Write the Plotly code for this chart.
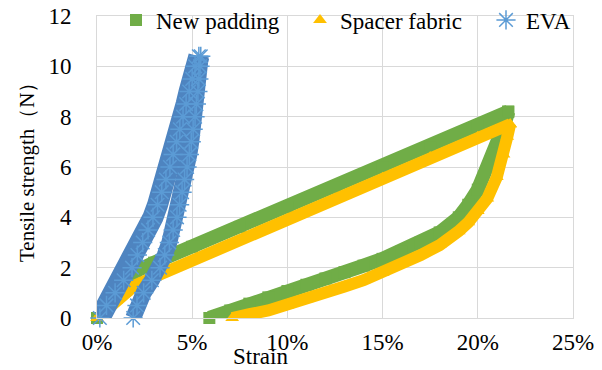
import plotly.graph_objects as go

# ---------------- data (strain in %, tensile strength in N) ----------------
np_load_x = [0, 0.3, 0.6, 1.0, 1.5, 2.0, 3.0, 5.0, 7.5, 10.0, 12.5, 15.0, 17.5, 20.0, 21.6]
np_load_y = [0, 0.4, 0.8, 1.2, 1.55, 1.85, 2.2, 2.83, 3.62, 4.41, 5.2, 5.99, 6.78, 7.6, 8.2]
np_unload_x = [21.6, 21.4, 21.05, 20.6, 20.0, 19.5, 19.0, 18.0, 17.0, 16.0, 15.0,
               14.0, 13.0, 12.0, 11.0, 10.0, 9.0, 8.0, 7.0, 5.9]
np_unload_y = [8.2, 7.7, 7.0, 6.0, 5.1, 4.5, 4.0, 3.4, 3.0, 2.65, 2.35,
               2.08, 1.82, 1.57, 1.32, 1.07, 0.82, 0.57, 0.3, 0.0]

sf_load_x = [0, 0.5, 1.0, 1.5, 2.0, 3.0, 5.0, 7.5, 10.0, 12.5, 15.0, 17.5, 20.0, 21.7]
sf_load_y = [0, 0.3, 0.7, 1.0, 1.3, 1.63, 2.28, 3.1, 3.93, 4.75, 5.57, 6.4, 7.2, 7.7]
sf_unload_x = [21.7, 21.55, 21.35, 21.0, 20.5, 20.0, 19.5, 19.0, 18.0, 17.0, 16.0, 15.0,
               14.0, 13.0, 12.0, 11.0, 10.0, 9.0, 8.0, 7.1]
sf_unload_y = [7.7, 7.2, 6.5, 5.6, 4.75, 4.25, 3.8, 3.45, 2.9, 2.5, 2.15, 1.8,
               1.5, 1.25, 1.0, 0.75, 0.5, 0.3, 0.15, 0.0]

eva_load_y = [0, 0.5, 1.0, 1.5, 2.0, 2.5, 3.0, 3.5, 4.0, 4.5, 5.0, 5.5, 6.0, 6.5, 7.0,
              7.5, 8.0, 8.5, 9.0, 9.5, 10.0, 10.4]
eva_load_x = [0.15, 0.5, 0.95, 1.4, 1.84, 2.12, 2.4, 2.68, 2.94, 3.18, 3.4, 3.62, 3.83, 4.0,
              4.18, 4.35, 4.52, 4.68, 4.84, 5.0, 5.15, 5.35]
eva_unload_y = [10.4, 10.0, 9.5, 9.0, 8.5, 8.0, 7.5, 7.0, 6.5, 6.0, 5.5, 5.0, 4.5, 4.0,
                3.5, 3.0, 2.5, 2.0, 1.5, 1.0, 0.5, 0.0]
eva_unload_x = [5.45, 5.41, 5.35, 5.3, 5.22, 5.15, 5.05, 4.95, 4.85, 4.73, 4.6, 4.47, 4.34,
                4.2, 4.0, 3.8, 3.56, 3.31, 2.88, 2.45, 2.1, 1.9]

x_ticks = [0, 5, 10, 15, 20, 25]
y_ticks = [0, 2, 4, 6, 8, 10, 12]

GREEN = "#70AD47"
YELLOW = "#FFC000"
BLUE = "#4E84C0"
BLUE_M = "#5B9BD5"
FONT = "Liberation Serif, Times New Roman, DejaVu Serif, serif"

fig = go.Figure()

# New padding
npx = np_load_x + np_unload_x
npy = np_load_y + np_unload_y
fig.add_trace(go.Scatter(x=npx, y=npy, mode="lines", line=dict(color=GREEN, width=14),
                         showlegend=False, cliponaxis=False, hoverinfo="skip"))
fig.add_trace(go.Scatter(x=npx, y=npy, mode="markers", name="New padding", legend="legend",
                         marker=dict(symbol="square", size=12, color=GREEN), cliponaxis=False))

# Spacer fabric
sfx = sf_load_x + sf_unload_x
sfy = sf_load_y + sf_unload_y
fig.add_trace(go.Scatter(x=sfx, y=sfy, mode="lines", line=dict(color=YELLOW, width=12),
                         showlegend=False, cliponaxis=False, hoverinfo="skip"))
fig.add_trace(go.Scatter(x=sfx, y=sfy, mode="markers", name="Spacer fabric", legend="legend2",
                         marker=dict(symbol="triangle-up", size=12, color=YELLOW), cliponaxis=False))

# EVA
fig.add_trace(go.Scatter(x=eva_load_x, y=eva_load_y, mode="lines", line=dict(color=BLUE, width=21),
                         showlegend=False, cliponaxis=False, hoverinfo="skip"))
fig.add_trace(go.Scatter(x=eva_unload_x, y=eva_unload_y, mode="lines", line=dict(color=BLUE, width=16),
                         showlegend=False, cliponaxis=False, hoverinfo="skip"))
fig.add_trace(go.Scatter(x=eva_load_x + eva_unload_x, y=eva_load_y + eva_unload_y, mode="markers",
                         name="EVA", legend="legend3", cliponaxis=False,
                         marker=dict(symbol="asterisk-open", size=16, color=BLUE_M,
                                     line=dict(color=BLUE_M, width=1.5))))

leg_common = dict(orientation="h", xanchor="left", y=(318 - 20) / 302, yanchor="middle",
                  bgcolor="rgba(0,0,0,0)", font=dict(family=FONT, size=23, color="black"),
                  itemwidth=30)

fig.update_layout(
    width=602, height=370,
    margin=dict(l=97, r=29, t=16, b=52, autoexpand=False),
    paper_bgcolor="white", plot_bgcolor="white",
    font=dict(family=FONT, size=23, color="black"),
    legend=dict(x=(116 - 97) / 476, **leg_common),
    legend2=dict(x=(300 - 97) / 476, **leg_common),
    legend3=dict(x=(486 - 97) / 476, **leg_common),
    xaxis=dict(range=[0, 25], tickvals=x_ticks, ticktext=[f"{v}%" for v in x_ticks],
               showgrid=True, gridcolor="#D9D9D9", gridwidth=1,
               showline=True, linecolor="#D9D9D9", mirror=True, zeroline=False,
               ticks="", ticklabelstandoff=3, automargin=False,
               tickfont=dict(family=FONT, size=23, color="black")),
    yaxis=dict(range=[0, 12], tickvals=y_ticks,
               showgrid=True, gridcolor="#D9D9D9", gridwidth=1,
               showline=True, linecolor="#D9D9D9", mirror=True, zeroline=False,
               ticks="", ticklabelstandoff=20, automargin=False,
               tickfont=dict(family=FONT, size=23, color="black")),
    annotations=[
        dict(text="Strain", xref="paper", yref="paper", x=(260 - 97) / 476, y=(318 - 357) / 302,
             xanchor="center", yanchor="middle", showarrow=False,
             font=dict(family=FONT, size=23, color="black")),
        dict(text="Tensile strength（N）", xref="paper", yref="paper", x=(27 - 97) / 476, y=0.5,
             xanchor="center", yanchor="middle", textangle=-90, showarrow=False,
             font=dict(family=FONT, size=21, color="black")),
    ],
)

fig.write_html("out.html", post_script="document.body.style.margin='0px';",
               config={"displayModeBar": False})
